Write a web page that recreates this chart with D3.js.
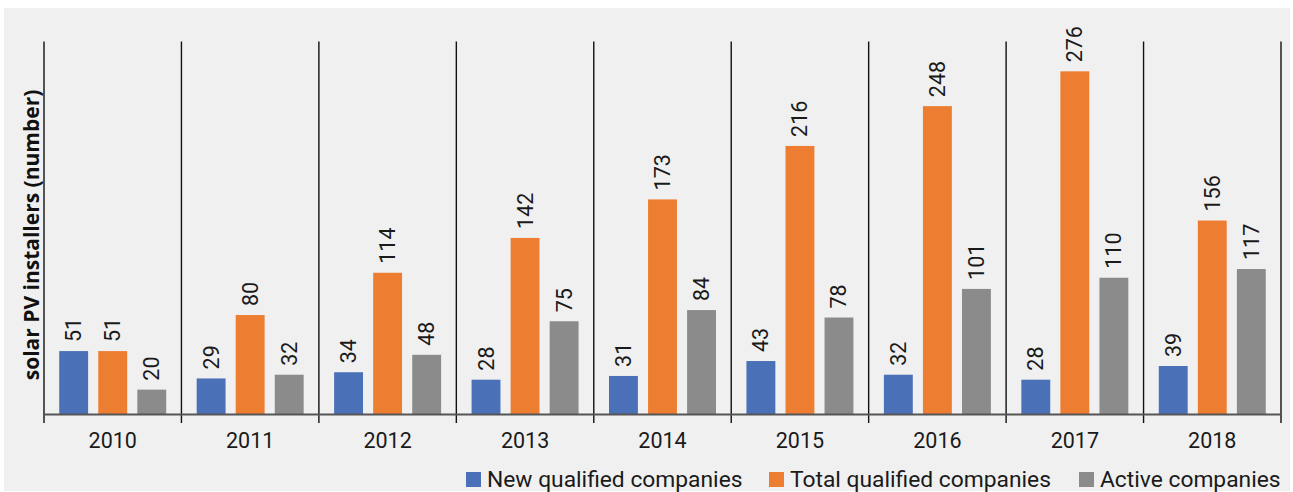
<!DOCTYPE html>
<html>
<head>
<meta charset="utf-8">
<script src="https://cdn.jsdelivr.net/npm/d3@7"></script>
<style>
  html, body { margin: 0; padding: 0; background: #ffffff; }
  svg { display: block; }
</style>
</head>
<body>
<svg id="chart" width="1293" height="492"></svg>
<script>
// Solar PV installers by year
const years = ["2010", "2011", "2012", "2013", "2014", "2015", "2016", "2017", "2018"];
const seriesNames = ["New qualified companies", "Total qualified companies", "Active companies"];
const newQualified = [51, 29, 34, 28, 31, 43, 32, 28, 39];
const totalQualified = [51, 80, 114, 142, 173, 216, 248, 276, 156];
const activeCompanies = [20, 32, 48, 75, 84, 78, 101, 110, 117];
const seriesColors = ["#4a70b8", "#ed7d31", "#8b8b8b"];

const seriesValues = [newQualified, totalQualified, activeCompanies];

const svg = d3.select("#chart");

// panel background
svg.append("rect")
  .attr("x", 4).attr("y", 8)
  .attr("width", 1286).attr("height", 483)
  .attr("fill", "#f0f0f0");

const plot = { left: 44, right: 1281, top: 41.5, bottom: 414.5 };

const x = d3.scaleBand()
  .domain(years)
  .range([plot.left, plot.right])
  .paddingInner(0).paddingOuter(0);

const xs = d3.scaleBand()
  .domain(d3.range(seriesNames.length))
  .range([0, x.bandwidth()])
  .paddingInner(0.26)
  .paddingOuter(0.39);

const y = d3.scaleLinear()
  .domain([0, 300])
  .range([plot.bottom, plot.top]);

const fontMain = "Roboto, 'Open Sans', sans-serif";

// category separators
const seps = years.map(d => x(d)).concat([plot.right]);
svg.append("g")
  .selectAll("line")
  .data(seps)
  .join("line")
  .attr("x1", d => d).attr("x2", d => d)
  .attr("y1", plot.top).attr("y2", plot.bottom + 8.5)
  .attr("stroke", "#111")
  .attr("stroke-width", 1.4);

// bars and value labels
const groups = svg.append("g")
  .selectAll("g")
  .data(years)
  .join("g")
  .attr("transform", d => `translate(${x(d)},0)`);

const cells = groups.selectAll("g.cell")
  .data((d, i) => seriesValues.map((vals, s) => ({ s, v: vals[i] })))
  .join("g").attr("class", "cell");

cells.append("rect")
  .attr("x", d => xs(d.s))
  .attr("width", xs.bandwidth())
  .attr("y", d => y(d.v))
  .attr("height", d => y(0) - y(d.v))
  .attr("fill", d => seriesColors[d.s]);

cells.append("text")
  .attr("transform", d => `translate(${xs(d.s) + xs.bandwidth() / 2},${y(d.v) - 9}) rotate(-90)`)
  .attr("text-anchor", "start")
  .attr("dominant-baseline", "central")
  .attr("font-family", fontMain)
  .attr("font-size", 21.5)
  .attr("fill", "#1a1a1a")
  .text(d => d.v);

// baseline axis
svg.append("line")
  .attr("x1", plot.left).attr("x2", plot.right)
  .attr("y1", plot.bottom).attr("y2", plot.bottom)
  .attr("stroke", "#555")
  .attr("stroke-width", 2);

// year labels
const xAxis = svg.append("g")
  .attr("transform", `translate(0,${plot.bottom})`)
  .call(d3.axisBottom(x).tickSize(0).tickPadding(0));
xAxis.select(".domain").remove();
xAxis.selectAll("text")
  .attr("y", 33.5)
  .attr("dy", null)
  .attr("font-family", fontMain)
  .attr("font-size", 21.5)
  .attr("fill", "#1a1a1a");

// y-axis title
svg.append("text")
  .attr("transform", `translate(31,235) rotate(-90)`)
  .attr("text-anchor", "middle")
  .attr("dominant-baseline", "central")
  .attr("font-family", "'Open Sans', sans-serif")
  .attr("font-weight", "bold")
  .attr("font-size", 21)
  .attr("fill", "#111")
  .text("solar PV installers (number)");

// legend
const legendX = [466, 769, 1079];
const legend = svg.append("g")
  .selectAll("g")
  .data(seriesNames)
  .join("g")
  .attr("transform", (d, i) => `translate(${legendX[i]},472)`);
legend.append("rect")
  .attr("width", 15).attr("height", 15)
  .attr("fill", (d, i) => seriesColors[i]);
legend.append("text")
  .attr("x", 21).attr("y", 15)
  .attr("font-family", fontMain)
  .attr("font-size", 22.8)
  .attr("fill", "#1a1a1a")
  .text(d => d);
</script>
</body>
</html>
